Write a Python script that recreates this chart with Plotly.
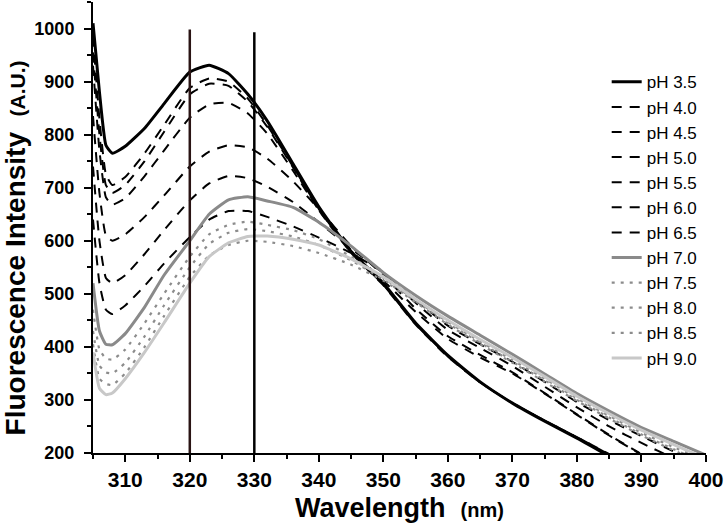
import plotly.graph_objects as go

wavelength = [305, 306, 307, 308, 310, 313, 316, 320, 323, 326, 329, 332, 336, 340,
              345, 350, 355, 360, 365, 370, 375, 380, 385, 390, 395, 400]

ph_labels = ["pH 3.5", "pH 4.0", "pH 4.5", "pH 5.0", "pH 5.5", "pH 6.0",
             "pH 6.5", "pH 7.0", "pH 7.5", "pH 8.0", "pH 8.5", "pH 9.0"]

ph35 = [1010, 880, 780, 765, 778, 812, 858, 918, 931, 915, 876, 826, 745, 664,
        580, 520, 445, 384, 334, 294, 260, 228, 194, 165, 140, 120]
ph40 = [985, 830, 725, 705, 720, 765, 818, 888, 906, 900, 868, 818, 740, 660,
        578, 517, 443, 382, 333, 294, 261, 230, 197, 168, 142, 120]
ph45 = [955, 800, 705, 690, 705, 750, 805, 876, 896, 892, 862, 815, 738, 658,
        577, 516, 442, 381, 333, 294, 261, 230, 198, 170, 144, 122]
ph50 = [930, 770, 682, 668, 680, 722, 770, 832, 857, 860, 840, 802, 732, 658,
        582, 525, 466, 415, 380, 350, 312, 272, 233, 197, 168, 145]
ph55 = [835, 690, 610, 600, 612, 645, 685, 740, 768, 780, 776, 755, 712, 660,
        590, 535, 472, 420, 385, 352, 313, 273, 234, 198, 170, 146]
ph60 = [740, 600, 530, 520, 535, 575, 620, 676, 708, 722, 718, 702, 673, 635,
        585, 540, 483, 432, 398, 364, 325, 286, 250, 219, 190, 165]
ph65 = [640, 520, 470, 462, 478, 515, 557, 607, 640, 656, 656, 645, 627, 606,
        577, 540, 488, 440, 405, 372, 334, 296, 262, 232, 203, 178]
ph70 = [520, 430, 405, 404, 425, 475, 535, 600, 650, 677, 683, 675, 663, 635,
        590, 540, 497, 458, 422, 386, 349, 312, 279, 248, 222, 196]
ph75 = [470, 395, 378, 376, 395, 445, 500, 570, 612, 630, 636, 630, 620, 603,
        570, 530, 488, 447, 410, 375, 340, 303, 270, 238, 211, 185]
ph80 = [430, 365, 352, 350, 370, 420, 478, 550, 594, 615, 622, 618, 608, 592,
        563, 527, 486, 444, 408, 372, 337, 300, 267, 235, 207, 180]
ph85 = [405, 340, 330, 328, 350, 400, 458, 532, 572, 592, 600, 598, 590, 577,
        555, 525, 484, 442, 405, 370, 334, 298, 265, 233, 205, 178]
ph90 = [390, 322, 310, 313, 340, 390, 445, 520, 570, 596, 608, 609, 603, 592,
        566, 532, 490, 450, 414, 380, 344, 307, 274, 243, 216, 189]

series = [ph35, ph40, ph45, ph50, ph55, ph60, ph65, ph70, ph75, ph80, ph85, ph90]

line_colors = ["#000000"] * 7 + ["#8a8a8a", "#8c8c8c", "#8c8c8c", "#8c8c8c", "#c8c8c8"]
line_dashes = ["solid"] + ["10px,8px"] * 6 + ["solid"] + ["3px,6px"] * 3 + ["solid"]
line_widths = [3, 2, 2, 2, 2, 2, 2, 3, 2.2, 2.2, 2.2, 3]

marker_wavelengths = [320, 330]
marker_tops = [998, 993]
marker_colors = ["#2a1414", "#000000"]

x_ticks = [310, 320, 330, 340, 350, 360, 370, 380, 390, 400]
x_minor = [305, 315, 325, 335, 345, 355, 365, 375, 385, 395]
y_ticks = [200, 300, 400, 500, 600, 700, 800, 900, 1000]
y_minor = [250, 350, 450, 550, 650, 750, 850, 950, 1050]

fig = go.Figure()
for name, ys, c, d, w in zip(ph_labels, series, line_colors, line_dashes, line_widths):
    fig.add_trace(go.Scatter(
        x=wavelength, y=ys, name=name, mode="lines",
        line=dict(color=c, dash=d, width=w, shape="spline", smoothing=0.45),
    ))

for xv, top, col in zip(marker_wavelengths, marker_tops, marker_colors):
    fig.add_shape(type="line", xref="x", yref="y", x0=xv, x1=xv, y0=200, y1=top,
                  line=dict(color=col, width=2.5), layer="above")

font_family = "Liberation Sans, Arial, sans-serif"
pad = "&nbsp;" * 7

fig.update_layout(
    width=724, height=530,
    margin=dict(l=93, r=18, t=2, b=77),
    paper_bgcolor="white", plot_bgcolor="white",
    font=dict(family=font_family, color="black"),
    showlegend=True,
    legend=dict(x=0.838, y=0.862, xanchor="left", yanchor="top",
                bgcolor="rgba(0,0,0,0)", font=dict(size=17, color="black",
                family=font_family), borderwidth=0),
    xaxis=dict(
        range=[305, 400], tickmode="array", automargin=False,
        tickvals=x_ticks, ticktext=["<b>%d</b>" % v for v in x_ticks],
        ticks="outside", ticklen=7, tickwidth=2, tickcolor="black",
        minor=dict(tickmode="array", tickvals=x_minor,
                   ticks="outside", ticklen=4, tickwidth=2, tickcolor="black"),
        showline=True, linecolor="black", linewidth=2, showgrid=False, zeroline=False,
        tickfont=dict(size=21, family=font_family, color="black"),
        title=dict(text="<b>Wavelength</b>  <b><span style='font-size:20px'>(nm)</span></b>",
                   font=dict(size=27, family=font_family, color="black"), standoff=8),
    ),
    yaxis=dict(
        range=[200, 1050], tickmode="array", automargin=False,
        tickvals=y_ticks, ticktext=["<b>%d</b>" % v for v in y_ticks],
        ticks="outside", ticklen=7, tickwidth=2, tickcolor="black", ticklabelstandoff=6,
        minor=dict(tickmode="array", tickvals=y_minor,
                   ticks="outside", ticklen=4, tickwidth=2, tickcolor="black"),
        showline=True, linecolor="black", linewidth=2, showgrid=False, zeroline=False,
        tickfont=dict(size=18, family=font_family, color="black"),
        title=dict(text="<b>Fluorescence Intensity</b>  <b><span style='font-size:21px'>(A.U.)</span></b>"
                        "<span style='font-size:21px'>" + pad + "</span>",
                   font=dict(size=28, family=font_family, color="black"), standoff=8),
    ),
)

fig.write_html("out.html", config={"displayModeBar": False},
               post_script="document.body.style.margin='0px';")
